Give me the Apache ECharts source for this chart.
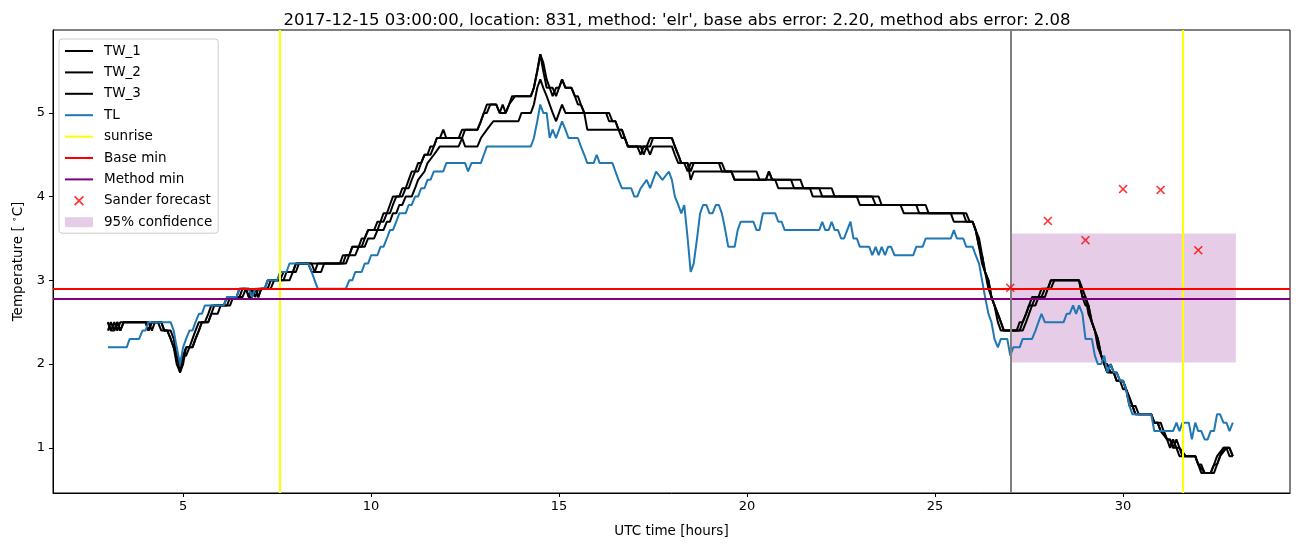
<!DOCTYPE html>
<html>
<head>
<meta charset="utf-8">
<script src="https://cdn.jsdelivr.net/npm/echarts@6/dist/echarts.min.js"></script>
<style>html,body{margin:0;padding:0;background:#fff}#c{width:1302px;height:547px}</style>
</head>
<body>
<div id="c"></div>
<script>
// ---- data (hours UTC, temperature °C) ----
const titleText = "2017-12-15 03:00:00, location: 831, method: 'elr', base abs error: 2.20, method abs error: 2.08";
const xTicks = [5, 10, 15, 20, 25, 30];
const yTicks = [1, 2, 3, 4, 5];
const sunriseHours = [7.58, 31.58];
const forecastStart = 27;
const baseMin = 2.9;
const methodMin = 2.78;
const confLow = 2.02;
const confHigh = 3.56;
const confStart = 27;
const confEnd = 33;
const sanderHours = [27, 28, 29, 30, 31, 32];
const sanderValues = [2.91, 3.71, 3.48, 4.09, 4.08, 3.36];

const tw1 = [[3.0,2.5],[3.08,2.4],[3.17,2.5],[3.25,2.4],[3.33,2.5],[4.0,2.5],[4.08,2.4],[4.17,2.5],[4.33,2.5],[4.42,2.4],[4.58,2.4],[4.67,2.3],[4.75,2.2],[4.83,2.1],[4.92,1.9],[5.0,2.1],[5.08,2.2],[5.17,2.2],[5.25,2.3],[5.33,2.4],[5.42,2.5],[5.58,2.5],[5.67,2.6],[5.75,2.7],[6.08,2.7],[6.17,2.8],[6.42,2.8],[6.5,2.9],[6.67,2.9],[6.75,2.8],[6.83,2.9],[6.92,2.8],[7.0,2.9],[7.17,2.9],[7.25,3.0],[7.58,3.0],[7.67,3.1],[7.92,3.1],[8.0,3.2],[9.17,3.2],[9.25,3.3],[9.42,3.3],[9.5,3.4],[9.67,3.4],[9.75,3.5],[9.83,3.5],[9.92,3.6],[10.08,3.6],[10.17,3.7],[10.25,3.7],[10.33,3.8],[10.42,3.8],[10.5,3.9],[10.58,4.0],[10.75,4.0],[10.83,4.1],[10.92,4.1],[11.0,4.2],[11.08,4.3],[11.17,4.3],[11.25,4.4],[11.33,4.4],[11.42,4.5],[11.5,4.5],[11.58,4.6],[11.67,4.6],[11.75,4.7],[11.83,4.7],[11.92,4.8],[12.0,4.7],[12.33,4.7],[12.42,4.8],[12.83,4.8],[12.92,4.9],[13.0,5.0],[13.08,5.1],[13.33,5.1],[13.42,5.0],[13.5,5.1],[13.58,5.0],[13.67,5.1],[13.75,5.2],[14.25,5.2],[14.33,5.3],[14.42,5.5],[14.5,5.7],[14.58,5.6],[14.67,5.4],[14.75,5.3],[14.83,5.3],[14.92,5.2],[15.0,5.3],[15.08,5.4],[15.17,5.3],[15.33,5.3],[15.42,5.2],[15.5,5.2],[15.58,5.1],[15.67,5.0],[16.25,5.0],[16.33,4.9],[16.5,4.9],[16.58,4.8],[16.67,4.8],[16.75,4.7],[16.83,4.6],[17.33,4.6],[17.42,4.7],[18.0,4.7],[18.08,4.6],[18.17,4.5],[18.25,4.4],[18.33,4.4],[18.42,4.3],[18.5,4.4],[19.33,4.4],[19.42,4.3],[20.25,4.3],[20.33,4.2],[20.5,4.2],[20.58,4.3],[20.67,4.2],[20.75,4.2],[20.83,4.1],[21.67,4.1],[21.75,4.0],[22.92,4.0],[23.0,3.9],[24.08,3.9],[24.17,3.8],[25.42,3.8],[25.5,3.7],[26.0,3.7],[26.08,3.6],[26.17,3.4],[26.25,3.2],[26.33,3.1],[26.42,2.9],[26.5,2.8],[26.58,2.7],[26.67,2.6],[26.75,2.5],[26.83,2.4],[27.25,2.4],[27.33,2.5],[27.42,2.6],[27.5,2.7],[27.58,2.7],[27.67,2.8],[27.83,2.8],[27.92,2.9],[28.0,2.9],[28.08,3.0],[28.83,3.0],[28.92,2.8],[29.0,2.7],[29.08,2.7],[29.17,2.5],[29.25,2.4],[29.33,2.2],[29.42,2.1],[29.5,2.0],[29.58,1.9],[29.75,1.9],[29.83,1.8],[29.92,1.8],[30.0,1.7],[30.08,1.7],[30.17,1.6],[30.25,1.5],[30.33,1.4],[30.75,1.4],[30.83,1.3],[30.92,1.3],[31.0,1.2],[31.08,1.2],[31.17,1.1],[31.25,1.0],[31.33,1.1],[31.42,1.0],[31.5,1.0],[31.58,0.9],[31.92,0.9],[32.0,0.8],[32.08,0.8],[32.17,0.7],[32.33,0.7],[32.42,0.8],[32.5,0.8],[32.58,0.9],[32.67,1.0],[32.83,1.0],[32.92,0.9]];

const tw2 = [[3.0,2.5],[3.08,2.4],[3.17,2.4],[3.25,2.5],[3.33,2.4],[3.42,2.5],[4.0,2.5],[4.08,2.4],[4.17,2.5],[4.42,2.5],[4.5,2.4],[4.58,2.4],[4.67,2.3],[4.75,2.2],[4.83,2.0],[4.92,1.9],[5.0,2.0],[5.08,2.2],[5.25,2.2],[5.33,2.3],[5.42,2.4],[5.5,2.5],[5.67,2.5],[5.75,2.6],[5.83,2.7],[6.17,2.7],[6.25,2.8],[6.5,2.8],[6.58,2.9],[6.75,2.9],[6.83,2.8],[6.92,2.9],[7.0,2.8],[7.08,2.9],[7.25,2.9],[7.33,3.0],[7.67,3.0],[7.75,3.1],[7.92,3.1],[8.0,3.2],[8.42,3.2],[8.5,3.1],[8.58,3.2],[9.25,3.2],[9.33,3.3],[9.42,3.3],[9.5,3.4],[9.75,3.4],[9.83,3.5],[9.92,3.6],[10.17,3.6],[10.25,3.7],[10.33,3.7],[10.42,3.8],[10.5,3.8],[10.58,3.9],[10.67,4.0],[10.83,4.0],[10.92,4.1],[11.0,4.1],[11.08,4.2],[11.17,4.3],[11.25,4.3],[11.33,4.4],[11.42,4.5],[11.58,4.5],[11.67,4.6],[11.75,4.7],[12.42,4.7],[12.5,4.8],[12.83,4.8],[12.92,4.9],[13.0,5.0],[13.08,5.0],[13.17,5.1],[13.33,5.1],[13.42,5.0],[13.58,5.0],[13.67,5.1],[13.83,5.2],[14.25,5.2],[14.33,5.3],[14.42,5.5],[14.5,5.7],[14.58,5.5],[14.67,5.3],[14.75,5.3],[14.83,5.2],[14.92,5.3],[15.0,5.3],[15.08,5.4],[15.17,5.3],[15.33,5.3],[15.42,5.2],[15.5,5.1],[15.58,5.1],[15.67,5.0],[16.33,5.0],[16.42,4.9],[16.5,4.9],[16.58,4.8],[16.67,4.8],[16.75,4.7],[16.83,4.6],[17.08,4.6],[17.17,4.5],[17.25,4.6],[17.42,4.6],[17.5,4.7],[18.0,4.7],[18.08,4.6],[18.17,4.5],[18.25,4.4],[18.42,4.4],[18.5,4.3],[18.58,4.4],[19.25,4.4],[19.33,4.3],[19.58,4.3],[19.67,4.2],[20.5,4.2],[20.58,4.3],[20.67,4.2],[21.17,4.2],[21.25,4.1],[21.92,4.1],[22.0,4.0],[23.33,4.0],[23.42,3.9],[24.5,3.9],[24.58,3.8],[25.75,3.8],[25.83,3.7],[26.0,3.7],[26.08,3.6],[26.17,3.5],[26.25,3.3],[26.33,3.1],[26.42,3.0],[26.5,2.8],[26.58,2.7],[26.67,2.6],[26.75,2.5],[26.83,2.4],[27.33,2.4],[27.42,2.5],[27.5,2.6],[27.58,2.7],[27.67,2.7],[27.75,2.8],[27.92,2.8],[28.0,2.9],[28.08,2.9],[28.17,3.0],[28.83,3.0],[28.92,2.9],[29.0,2.8],[29.08,2.6],[29.17,2.5],[29.25,2.4],[29.33,2.3],[29.42,2.1],[29.5,2.0],[29.58,2.0],[29.67,1.9],[29.83,1.9],[29.92,1.8],[30.0,1.8],[30.08,1.7],[30.17,1.6],[30.25,1.5],[30.33,1.5],[30.42,1.4],[30.75,1.4],[30.83,1.3],[31.0,1.3],[31.08,1.2],[31.17,1.1],[31.25,1.1],[31.33,1.0],[31.42,1.1],[31.5,1.0],[31.67,0.9],[31.92,0.9],[32.0,0.8],[32.17,0.7],[32.42,0.7],[32.5,0.8],[32.58,0.9],[32.75,1.0],[32.83,0.9],[32.92,0.9]];

const tw3 = [[3.0,2.4],[3.08,2.5],[3.17,2.4],[3.25,2.5],[3.33,2.4],[3.42,2.5],[4.08,2.5],[4.17,2.4],[4.25,2.5],[4.42,2.5],[4.5,2.4],[4.67,2.4],[4.75,2.3],[4.83,2.1],[4.92,2.0],[5.0,2.1],[5.08,2.1],[5.17,2.2],[5.25,2.2],[5.33,2.3],[5.42,2.4],[5.5,2.5],[5.67,2.5],[5.75,2.6],[5.92,2.6],[6.0,2.7],[6.25,2.7],[6.33,2.8],[6.58,2.8],[6.67,2.9],[6.75,2.8],[6.83,2.8],[6.92,2.9],[7.0,2.8],[7.08,2.9],[7.33,2.9],[7.42,3.0],[7.83,3.0],[7.92,3.1],[8.0,3.1],[8.08,3.2],[8.33,3.2],[8.42,3.1],[8.67,3.1],[8.75,3.2],[9.33,3.2],[9.42,3.3],[9.58,3.3],[9.67,3.4],[9.83,3.4],[9.92,3.5],[10.08,3.5],[10.17,3.6],[10.33,3.6],[10.42,3.7],[10.5,3.7],[10.58,3.8],[10.67,3.8],[10.75,3.9],[10.83,3.9],[10.92,4.0],[11.08,4.0],[11.17,4.1],[11.25,4.2],[11.42,4.3],[11.5,4.4],[11.67,4.5],[11.83,4.6],[12.33,4.6],[12.42,4.7],[12.5,4.6],[12.83,4.6],[12.92,4.7],[13.08,4.8],[13.25,4.9],[13.92,4.9],[14.0,5.0],[14.25,5.0],[14.33,5.1],[14.42,5.3],[14.5,5.4],[14.58,5.3],[14.67,5.2],[14.75,5.1],[14.83,5.0],[14.92,4.9],[15.0,5.0],[15.08,5.1],[15.17,5.0],[15.67,5.0],[15.75,4.8],[16.58,4.8],[16.67,4.7],[16.75,4.7],[16.83,4.6],[17.17,4.6],[17.25,4.5],[17.33,4.6],[17.42,4.5],[17.5,4.6],[18.0,4.6],[18.08,4.5],[18.17,4.4],[18.42,4.4],[18.5,4.2],[18.58,4.3],[19.58,4.3],[19.67,4.2],[21.42,4.2],[21.5,4.1],[22.25,4.1],[22.33,4.0],[23.5,4.0],[23.58,3.9],[24.75,3.9],[24.83,3.8],[25.83,3.8],[25.92,3.7],[26.0,3.7],[26.08,3.6],[26.17,3.4],[26.25,3.3],[26.33,3.1],[26.42,3.0],[26.5,2.8],[26.58,2.7],[26.67,2.5],[26.75,2.4],[27.17,2.4],[27.25,2.5],[27.33,2.5],[27.42,2.6],[27.5,2.7],[27.58,2.8],[27.75,2.8],[27.83,2.9],[28.0,2.9],[28.08,3.0],[28.83,3.0],[28.92,2.8],[29.0,2.8],[29.08,2.7],[29.17,2.5],[29.25,2.4],[29.33,2.3],[29.42,2.1],[29.5,2.0],[29.58,1.9],[29.67,2.0],[29.75,1.9],[29.83,1.8],[30.0,1.8],[30.08,1.7],[30.17,1.5],[30.25,1.5],[30.33,1.4],[30.75,1.4],[30.83,1.3],[30.92,1.3],[31.0,1.2],[31.17,1.1],[31.25,1.1],[31.33,1.0],[31.42,1.0],[31.5,0.9],[31.92,0.9],[32.0,0.8],[32.08,0.7],[32.33,0.7],[32.42,0.8],[32.5,0.9],[32.67,1.0],[32.83,1.0],[32.92,0.9]];

const tl = [[3.0,2.2],[3.5,2.2],[3.58,2.3],[3.83,2.3],[3.92,2.4],[4.0,2.4],[4.08,2.5],[4.67,2.5],[4.75,2.4],[4.83,2.2],[4.92,2.0],[5.0,2.2],[5.08,2.3],[5.17,2.4],[5.25,2.4],[5.33,2.5],[5.42,2.6],[5.5,2.6],[5.58,2.7],[6.08,2.7],[6.17,2.8],[6.42,2.8],[6.5,2.9],[6.75,2.9],[6.83,2.8],[6.92,2.9],[7.17,2.9],[7.25,3.0],[7.5,3.0],[7.58,3.1],[7.75,3.1],[7.83,3.2],[8.33,3.2],[8.42,3.1],[8.5,3.0],[8.58,2.9],[9.33,2.9],[9.42,3.0],[9.5,3.0],[9.58,3.1],[9.75,3.1],[9.83,3.2],[9.92,3.2],[10.0,3.3],[10.17,3.3],[10.25,3.4],[10.33,3.4],[10.42,3.5],[10.5,3.6],[10.58,3.6],[10.67,3.7],[10.75,3.8],[10.92,3.8],[11.0,3.9],[11.08,3.9],[11.17,4.0],[11.25,4.0],[11.33,4.1],[11.42,4.1],[11.5,4.2],[11.58,4.2],[11.67,4.3],[11.92,4.3],[12.0,4.4],[12.5,4.4],[12.58,4.3],[12.67,4.4],[12.92,4.4],[13.0,4.5],[13.08,4.6],[14.25,4.6],[14.33,4.7],[14.42,4.9],[14.5,5.1],[14.58,5.0],[14.67,5.0],[14.75,4.7],[14.83,4.8],[14.92,4.7],[15.0,4.8],[15.08,4.9],[15.17,4.8],[15.25,4.7],[15.5,4.7],[15.58,4.6],[15.67,4.5],[15.75,4.4],[15.92,4.4],[16.0,4.5],[16.08,4.4],[16.42,4.4],[16.5,4.3],[16.58,4.2],[16.67,4.1],[16.92,4.1],[17.0,4.0],[17.08,4.0],[17.17,4.1],[17.33,4.2],[17.42,4.1],[17.5,4.2],[17.58,4.3],[17.75,4.2],[17.92,4.3],[18.0,4.2],[18.08,4.0],[18.17,3.9],[18.25,3.8],[18.33,3.9],[18.42,3.5],[18.5,3.1],[18.58,3.2],[18.67,3.5],[18.75,3.8],[18.83,3.9],[18.92,3.9],[19.0,3.8],[19.08,3.8],[19.17,3.9],[19.25,3.9],[19.33,3.8],[19.42,3.6],[19.5,3.4],[19.67,3.4],[19.75,3.6],[19.83,3.7],[20.17,3.7],[20.25,3.6],[20.33,3.6],[20.42,3.8],[20.75,3.8],[20.83,3.7],[20.92,3.7],[21.0,3.6],[21.92,3.6],[22.0,3.7],[22.08,3.6],[22.17,3.6],[22.25,3.7],[22.33,3.6],[22.42,3.6],[22.5,3.5],[22.58,3.5],[22.75,3.7],[22.83,3.5],[22.92,3.5],[23.0,3.4],[23.25,3.4],[23.33,3.3],[23.42,3.4],[23.5,3.3],[23.58,3.4],[23.67,3.3],[23.75,3.4],[23.83,3.4],[23.92,3.3],[24.42,3.3],[24.5,3.4],[24.67,3.4],[24.75,3.5],[25.42,3.5],[25.5,3.6],[25.58,3.5],[25.75,3.5],[25.83,3.4],[26.0,3.4],[26.08,3.3],[26.17,3.2],[26.25,3.0],[26.33,2.8],[26.42,2.6],[26.5,2.5],[26.58,2.3],[26.67,2.2],[26.75,2.3],[26.92,2.3],[27.0,2.1],[27.08,2.2],[27.25,2.2],[27.33,2.3],[27.58,2.3],[27.67,2.4],[27.75,2.5],[27.83,2.6],[27.92,2.5],[28.42,2.5],[28.5,2.6],[28.58,2.6],[28.67,2.7],[28.75,2.6],[28.83,2.7],[28.92,2.6],[29.0,2.3],[29.17,2.3],[29.25,2.1],[29.33,2.0],[29.42,2.0],[29.5,2.1],[29.58,1.9],[29.67,2.0],[29.75,1.9],[29.83,1.9],[29.92,1.8],[30.0,1.8],[30.08,1.7],[30.17,1.5],[30.25,1.4],[30.75,1.4],[30.83,1.2],[31.33,1.2],[31.42,1.3],[31.5,1.2],[31.58,1.3],[31.75,1.3],[31.83,1.1],[31.92,1.3],[32.0,1.2],[32.08,1.2],[32.17,1.1],[32.25,1.1],[32.33,1.2],[32.42,1.2],[32.5,1.4],[32.58,1.4],[32.67,1.3],[32.75,1.3],[32.83,1.2],[32.92,1.3]];

// ---- chart ----
const FONT = 'DejaVu Sans';
const chart = echarts.init(document.getElementById('c'), null, {renderer: 'canvas'});
const LW = 2;
function lineSeries(name, data, color, z) {
  return {name, type: 'line', data, symbol: 'none', showSymbol: false, z: z,
    lineStyle: {color, width: LW}, itemStyle: {color}, silent: true, animation: false};
}
function markLineSeries(name, color, lines, z) {
  return {name, type: 'line', data: [], symbol: 'none', z: z,
    lineStyle: {color, width: LW}, itemStyle: {color},
    markLine: {silent: true, symbol: ['none', 'none'], label: {show: false}, animation: false,
      lineStyle: {color, width: LW, type: 'solid'}, emphasis: {disabled: true}, data: lines}};
}
const xPath = 'path://M0,1.2L1.2,0L5,3.8L8.8,0L10,1.2L6.2,5L10,8.8L8.8,10L5,6.2L1.2,10L0,8.8L3.8,5Z';
const linePath = 'path://M0,0H28V2H0Z';
function legendLine(name, color) {
  return {name, icon: linePath, itemStyle: {color, borderWidth: 0}};
}

const option = {
  animation: false,
  backgroundColor: '#fff',
  textStyle: {fontFamily: FONT},
  title: {text: titleText, left: 672, top: 7, textAlign: 'center',
    textStyle: {fontFamily: FONT, fontSize: 16.5, fontWeight: 'normal', color: '#000'}},
  grid: {left: 53, right: 12, top: 30, bottom: 54, show: true, borderColor: '#000', borderWidth: 1,
    backgroundColor: 'transparent', containLabel: false, outerBoundsMode: 'none'},
  legend: {
    orient: 'vertical', left: 59, top: 39, itemWidth: 28, itemHeight: 10, itemGap: 7.4,
    symbolKeepAspect: true,
    padding: [5, 6, 4, 6], borderColor: '#cccccc', borderWidth: 1, borderRadius: 3, backgroundColor: 'rgba(255,255,255,0.8)',
    textStyle: {fontFamily: FONT, fontSize: 13.5, color: '#000', padding: [0, 0, 0, 6]},
    data: [
      legendLine('TW_1', '#000000'), legendLine('TW_2', '#000000'), legendLine('TW_3', '#000000'),
      legendLine('TL', '#1f77b4'), legendLine('sunrise', '#ffff00'),
      legendLine('Base min', '#ff0000'), legendLine('Method min', '#800080'),
      {name: 'Sander forecast', icon: xPath, itemStyle: {color: 'red'}},
      {name: '95% confidence', icon: 'path://M0,0H28V10H0Z', itemStyle: {color: 'rgba(128,0,128,0.2)'}}
    ],
    selectedMode: false
  },
  xAxis: {
    type: 'value', min: 1.54, max: 34.44,
    name: 'UTC time [hours]', nameLocation: 'middle', nameGap: 31,
    nameTextStyle: {fontFamily: FONT, fontSize: 13.5, color: '#000'},
    axisLine: {show: true, onZero: false, lineStyle: {color: '#000', width: 1}},
    axisTick: {show: true, length: 4, customValues: xTicks, lineStyle: {color: '#000', width: 1}},
    axisLabel: {customValues: xTicks, margin: 7, fontFamily: FONT, fontSize: 13, color: '#000'},
    splitLine: {show: false}
  },
  yAxis: {
    type: 'value', min: 0.46, max: 5.99,
    name: 'Temperature [ {s|∘}C]', nameLocation: 'middle', nameGap: 27, nameRotate: 90,
    nameTextStyle: {fontFamily: FONT, fontSize: 13.5, color: '#000',
      rich: {s: {fontFamily: FONT, fontSize: 9, color: '#000', padding: [0, 0, 7, 0]}}},
    axisLine: {show: true, onZero: false, lineStyle: {color: '#000', width: 1}},
    axisTick: {show: true, length: 4, customValues: yTicks, lineStyle: {color: '#000', width: 1}},
    axisLabel: {customValues: yTicks, margin: 8, fontFamily: FONT, fontSize: 13, color: '#000'},
    splitLine: {show: false}
  },
  series: [
    {name: '95% confidence', type: 'line', data: [], symbol: 'none', z: 1,
      itemStyle: {color: 'rgba(128,0,128,0.2)'}, lineStyle: {color: 'rgba(128,0,128,0.2)'},
      markArea: {silent: true, itemStyle: {color: 'rgba(128,0,128,0.2)'}, label: {show: false},
        data: [[{xAxis: confStart, yAxis: confLow}, {xAxis: confEnd, yAxis: confHigh}]]}},
    lineSeries('TW_1', tw1, '#000000', 3),
    lineSeries('TW_2', tw2, '#000000', 3),
    lineSeries('TW_3', tw3, '#000000', 3),
    lineSeries('TL', tl, '#1f77b4', 4),
    markLineSeries('sunrise', '#ffff00', sunriseHours.map(h => ({xAxis: h})), 5),
    markLineSeries('Base min', '#ff0000', [{yAxis: baseMin}], 6),
    markLineSeries('Method min', '#800080', [{yAxis: methodMin}], 6),
    markLineSeries('forecast start', '#808080', [{xAxis: forecastStart}], 6),
    {name: 'Sander forecast', type: 'scatter', z: 8, symbol: xPath, symbolSize: 9,
      itemStyle: {color: 'red'}, data: sanderHours.map((h, i) => [h, sanderValues[i]]), silent: true}
  ]
};
chart.setOption(option);
</script>
</body>
</html>
